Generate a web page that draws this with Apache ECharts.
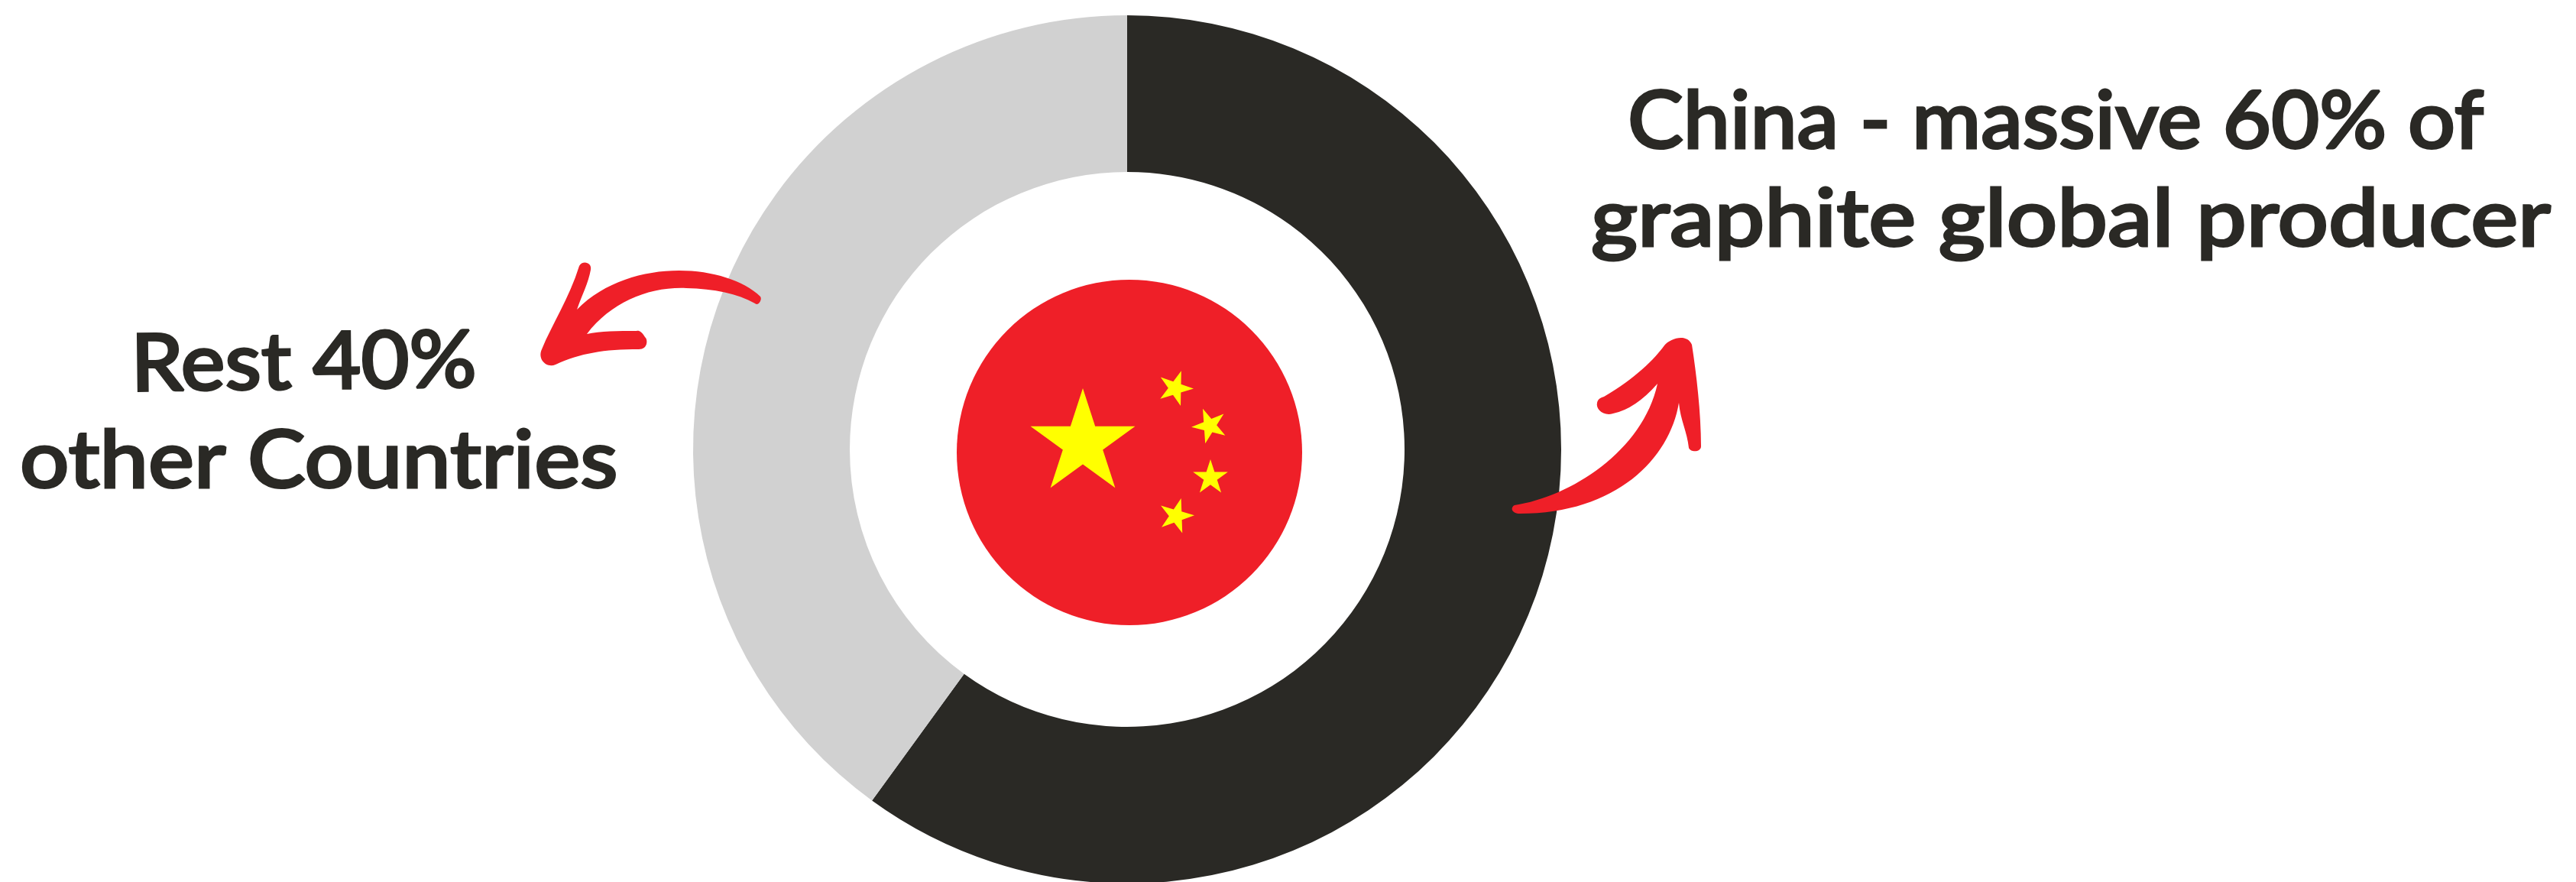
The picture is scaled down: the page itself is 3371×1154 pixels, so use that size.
<!DOCTYPE html>
<html>
<head>
<meta charset="utf-8">
<style>html,body{margin:0;padding:0;background:#fff}#main{width:3371px;height:1154px}</style>
<script src="https://cdn.jsdelivr.net/npm/echarts@6/dist/echarts.min.js"></script>
</head>
<body>
<div id="main"></div>
<script>
// Share of global graphite production
const producers = ['China', 'Other countries'];
const shares = [60, 40];
const shareColors = ['#2a2925', '#d1d1d1'];

const flagRed = '#ef1f28';
const flagYellow = '#ffff00';
const inkColor = '#2a2925';

// Annotation text: [string, left x, bottom y, rotation in radians, horizontal stretch]
const captions = [
  ['China - massive 60% of', 2130, 212, 0, 1.05],
  ['graphite global producer', 2082, 340, 0, 1.125],
  ['Rest 40%', 172, 530, 0.012, 1.05],
  ['other Countries', 26, 656, 0, 1.09]
];

// Flag stars: [centre x, centre y, outer radius, rotation in degrees]
const flagStars = [
  [1417, 580, 72, 0],
  [1538, 508, 24, 19],
  [1583, 557, 24, -22],
  [1584, 625, 24, 0],
  [1539, 675, 24, 16]
];

// Hand-drawn callout arrows, outlined by smooth closed curves
const arrowRight = 'M1982 661 C2055 650 2150 590 2169 502 Q2140 535 2111 541 C2098 545 2088 535 2090 527 C2091 522 2095 520 2099 519 C2140 495 2165 470 2178 452 C2186 442 2208 436 2214 451 C2220 490 2226 540 2226 584 C2226 592 2212 592 2210 586 C2208 565 2199 550 2197 527 C2185 600 2115 672 1989 672 C1978 672 1976 664 1982 661 Z';
const arrowLeft = 'M988 397 C992 401 998 392 995 388 C950 345 825 335 755 405 C762 385 770 370 773 353 C775 343 762 340 758 348 C745 390 722 425 709 457 C703 470 715 482 727 477 C760 462 790 457 836 457 C848 457 848 444 844 441 C840 434 836 432 833 433 C810 433 785 433 768 437 C800 395 850 375 898 377 C935 378 965 384 988 397 Z';
const arrowPaths = [arrowRight, arrowLeft];

// Five-pointed star outline around a centre
function starPoints(cx, cy, r, deg) {
  const pts = [];
  for (let i = 0; i < 10; i++) {
    const rad = i % 2 ? r * 0.382 : r;
    const a = (deg + i * 36) * Math.PI / 180;
    pts.push([cx + rad * Math.sin(a), cy - rad * Math.cos(a)]);
  }
  return pts;
}

const graphicItems = [];

flagStars.forEach(function (s) {
  graphicItems.push({
    type: 'polygon',
    z: 10,
    shape: { points: starPoints(s[0], s[1], s[2], s[3]) },
    style: { fill: flagYellow }
  });
});

captions.forEach(function (c) {
  graphicItems.push({
    type: 'text',
    z: 30,
    x: c[1],
    y: c[2],
    rotation: c[3],
    scaleX: c[4],
    style: {
      text: c[0],
      font: '500 104px Lato',
      fill: inkColor,
      stroke: inkColor,
      lineWidth: 3,
      lineJoin: 'round',
      textAlign: 'left',
      textVerticalAlign: 'bottom'
    }
  });
});

const chart = echarts.init(document.getElementById('main'), null, { renderer: 'canvas' });
chart.setOption({
  animation: false,
  backgroundColor: '#ffffff',
  series: [
    {
      type: 'pie',
      center: [1475, 588],
      radius: [363, 568],
      startAngle: 90,
      clockwise: true,
      silent: true,
      label: { show: false },
      labelLine: { show: false },
      data: producers.map(function (name, i) {
        return { name: name, value: shares[i], itemStyle: { color: shareColors[i] } };
      })
    },
    {
      // Flag disc in the middle of the ring
      type: 'pie',
      center: [1478, 592],
      radius: [0, 226],
      silent: true,
      label: { show: false },
      labelLine: { show: false },
      data: [{ name: 'China flag', value: 1, itemStyle: { color: flagRed } }]
    },
    {
      // Callout arrows drawn above the ring
      type: 'custom',
      coordinateSystem: 'none',
      silent: true,
      z: 20,
      data: arrowPaths.map(function (d, i) { return [i]; }),
      renderItem: function (params) {
        return {
          type: 'path',
          shape: { pathData: arrowPaths[params.dataIndex] },
          style: { fill: flagRed }
        };
      }
    }
  ],
  graphic: { elements: graphicItems }
});
</script>
</body>
</html>
